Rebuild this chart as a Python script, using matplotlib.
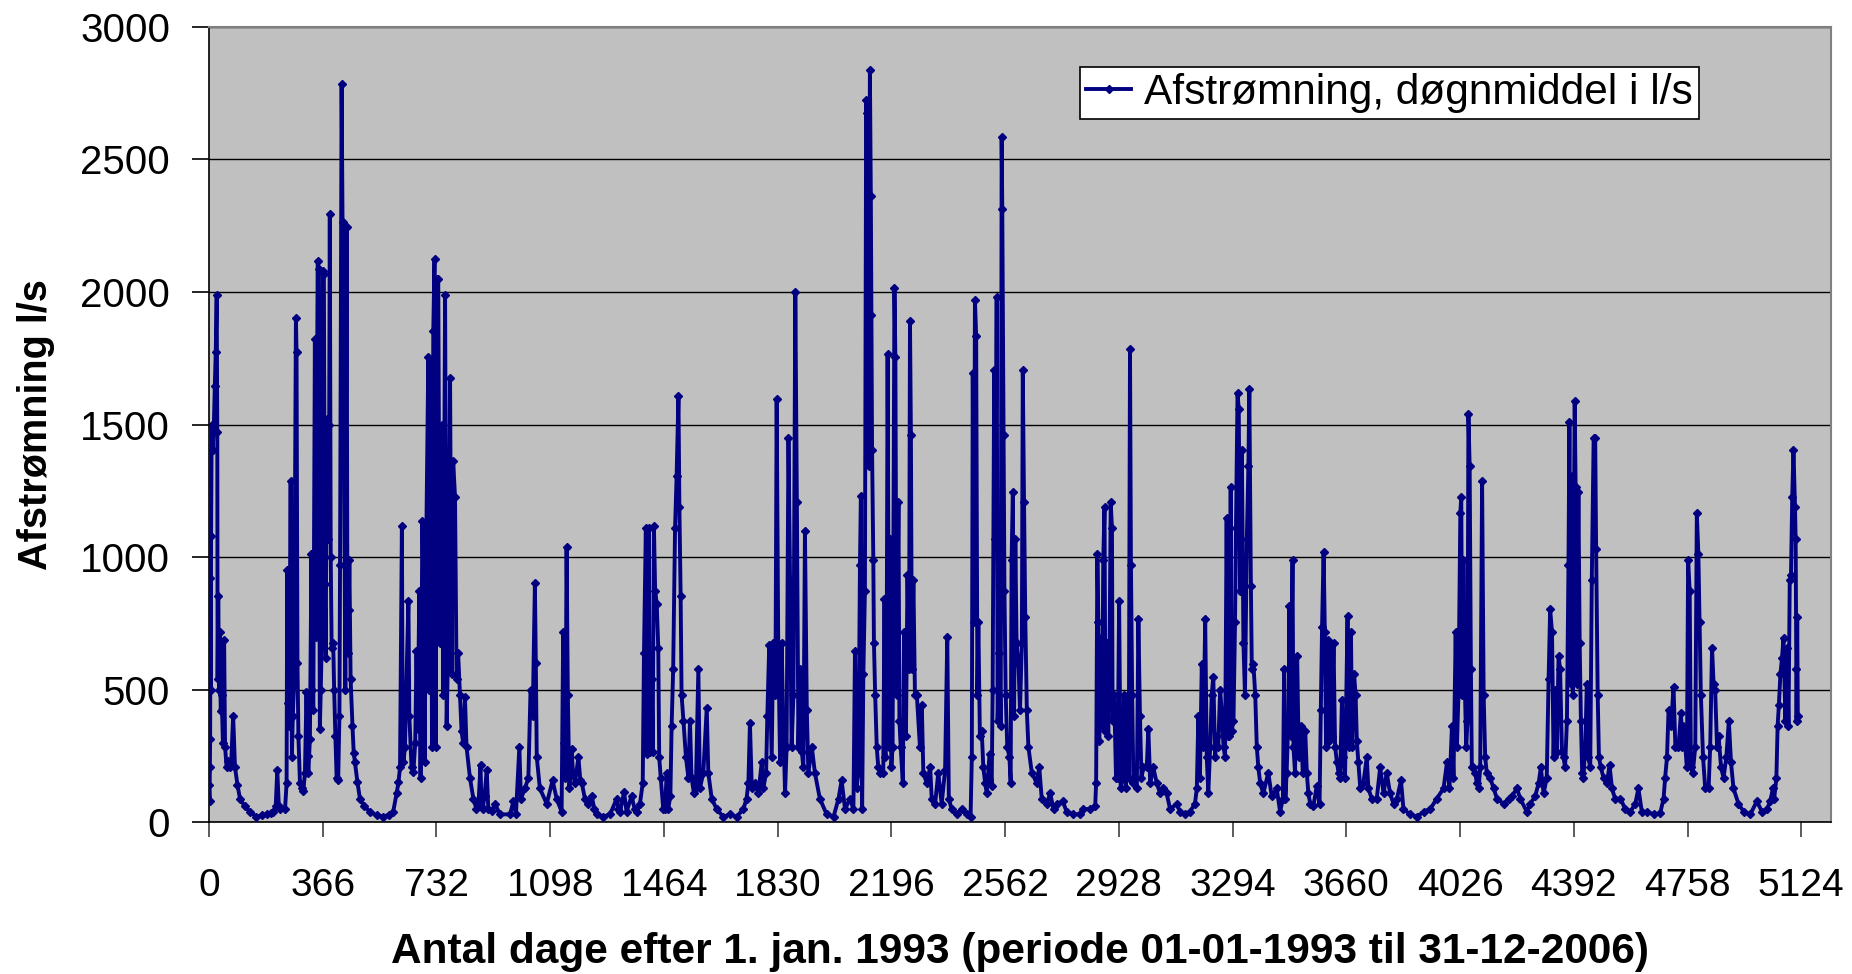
"""Afstrømning, døgnmiddel i l/s — daily discharge 1993-2006 (Excel-style line chart)."""
import matplotlib
matplotlib.use("Agg")
import matplotlib.pyplot as plt

plt.rcParams["font.family"] = ["Liberation Sans", "DejaVu Sans"]

# ── data (day after 1 Jan 1993, discharge l/s) ──
DAY = [
    0, 2, 3, 4, 5, 6, 7, 9, 12, 16, 19, 22, 25, 27, 28, 30, 33, 35, 38, 41,
    45, 49, 52, 57, 62, 67, 72, 78, 84, 92, 100, 115, 132, 153, 170, 186, 200, 207, 215, 220,
    225, 229, 245, 250, 252, 255, 258, 263, 267, 270, 274, 280, 282, 285, 288, 293, 300, 304, 309, 314,
    318, 320, 325, 330, 333, 336, 341, 344, 350, 353, 357, 360, 363, 366, 370, 373, 376, 379, 384, 387,
    389, 392, 395, 400, 403, 407, 411, 416, 420, 422, 427, 430, 432, 435, 439, 443, 446, 450, 452, 456,
    462, 466, 470, 478, 486, 500, 518, 540, 561, 580, 593, 604, 610, 615, 621, 623, 626, 631, 635, 642,
    645, 652, 658, 664, 668, 672, 677, 681, 687, 690, 694, 700, 706, 709, 713, 718, 722, 726, 730, 733,
    738, 743, 749, 754, 760, 765, 770, 776, 781, 786, 792, 797, 802, 808, 813, 818, 824, 829, 840, 851,
    861, 868, 874, 877, 881, 887, 894, 899, 910, 920, 937, 969, 980, 988, 999, 1004, 1017, 1028, 1035, 1042,
    1049, 1052, 1055, 1065, 1087, 1106, 1119, 1135, 1140, 1144, 1147, 1151, 1155, 1160, 1167, 1172, 1178, 1189, 1195, 1200,
    1210, 1220, 1232, 1240, 1248, 1269, 1291, 1312, 1318, 1323, 1336, 1344, 1360, 1370, 1377, 1387, 1396, 1400, 1406, 1411,
    1415, 1419, 1425, 1428, 1432, 1436, 1441, 1446, 1449, 1454, 1462, 1468, 1473, 1478, 1485, 1489, 1494, 1500, 1505, 1511,
    1514, 1518, 1521, 1527, 1535, 1543, 1548, 1553, 1561, 1567, 1575, 1580, 1591, 1602, 1607, 1618, 1634, 1655, 1677, 1698,
    1720, 1730, 1736, 1741, 1747, 1757, 1768, 1779, 1784, 1793, 1797, 1803, 1811, 1816, 1823, 1827, 1832, 1838, 1843, 1848,
    1854, 1859, 1865, 1870, 1875, 1881, 1887, 1892, 1897, 1902, 1908, 1913, 1918, 1924, 1929, 1940, 1950, 1966, 1988, 2010,
    2026, 2036, 2047, 2063, 2074, 2079, 2084, 2090, 2095, 2098, 2102, 2106, 2111, 2115, 2117, 2120, 2123, 2127, 2130, 2132,
    2134, 2138, 2140, 2144, 2149, 2154, 2160, 2170, 2174, 2177, 2181, 2184, 2189, 2192, 2196, 2200, 2206, 2209, 2213, 2219,
    2222, 2226, 2233, 2237, 2243, 2248, 2253, 2256, 2259, 2262, 2267, 2272, 2278, 2288, 2294, 2299, 2310, 2321, 2326, 2337,
    2347, 2358, 2369, 2376, 2381, 2390, 2406, 2422, 2439, 2451, 2455, 2458, 2462, 2465, 2469, 2473, 2476, 2481, 2487, 2492,
    2498, 2503, 2512, 2519, 2522, 2527, 2531, 2535, 2538, 2544, 2548, 2551, 2553, 2557, 2560, 2564, 2569, 2576, 2580, 2583,
    2587, 2591, 2595, 2599, 2605, 2610, 2616, 2619, 2623, 2627, 2632, 2637, 2648, 2664, 2672, 2680, 2696, 2707, 2718, 2730,
    2748, 2760, 2782, 2803, 2814, 2835, 2852, 2855, 2859, 2862, 2865, 2870, 2874, 2878, 2882, 2885, 2889, 2894, 2898, 2902,
    2906, 2908, 2913, 2919, 2924, 2929, 2934, 2941, 2945, 2951, 2956, 2960, 2964, 2967, 2971, 2975, 2986, 2991, 2996, 3001,
    3007, 3018, 3023, 3029, 3039, 3050, 3061, 3071, 3082, 3093, 3114, 3125, 3141, 3157, 3173, 3179, 3184, 3189, 3195, 3200,
    3206, 3211, 3216, 3222, 3227, 3232, 3238, 3243, 3248, 3254, 3259, 3265, 3270, 3275, 3279, 3284, 3288, 3291, 3297, 3302,
    3305, 3310, 3314, 3318, 3324, 3329, 3334, 3340, 3345, 3348, 3353, 3356, 3361, 3367, 3372, 3377, 3383, 3393, 3409, 3420,
    3436, 3447, 3456, 3460, 3464, 3468, 3474, 3477, 3481, 3487, 3490, 3495, 3502, 3507, 3514, 3520, 3528, 3533, 3538, 3544,
    3554, 3565, 3574, 3578, 3582, 3587, 3591, 3595, 3600, 3604, 3608, 3613, 3619, 3624, 3630, 3635, 3640, 3646, 3651, 3656,
    3664, 3668, 3675, 3679, 3685, 3690, 3694, 3699, 3705, 3715, 3726, 3731, 3742, 3758, 3769, 3780, 3790, 3801, 3812, 3823,
    3836, 3844, 3866, 3887, 3909, 3930, 3951, 3973, 3984, 3992, 4000, 4005, 4012, 4016, 4021, 4027, 4030, 4033, 4037, 4042,
    4046, 4050, 4053, 4057, 4061, 4064, 4069, 4075, 4080, 4086, 4091, 4097, 4102, 4107, 4112, 4123, 4134, 4145, 4166, 4182,
    4193, 4209, 4220, 4241, 4252, 4268, 4279, 4286, 4295, 4305, 4311, 4316, 4322, 4327, 4332, 4338, 4343, 4348, 4354, 4359,
    4364, 4370, 4375, 4378, 4382, 4386, 4389, 4395, 4398, 4402, 4407, 4411, 4415, 4419, 4423, 4429, 4434, 4439, 4445, 4450,
    4456, 4461, 4464, 4469, 4473, 4479, 4488, 4499, 4507, 4515, 4525, 4542, 4558, 4574, 4590, 4600, 4611, 4627, 4649, 4670,
    4681, 4686, 4692, 4697, 4705, 4713, 4719, 4729, 4737, 4741, 4745, 4751, 4756, 4760, 4765, 4769, 4775, 4783, 4788, 4793,
    4797, 4801, 4808, 4815, 4826, 4831, 4837, 4842, 4847, 4853, 4858, 4866, 4874, 4883, 4891, 4898, 4906, 4922, 4939, 4960,
    4981, 4998, 5014, 5024, 5033, 5037, 5044, 5048, 5052, 5057, 5062, 5067, 5073, 5078, 5083, 5087, 5091, 5095, 5099, 5104,
    5106, 5108, 5109, 5111, 5113,
]
FLOW = [
    140, 80, 206, 314, 922, 500, 1078, 1500, 1402, 1500, 1647, 1775, 1990, 1470, 539, 853, 500, 716, 420, 480,
    300, 686, 284, 206, 230, 206, 230, 402, 206, 140, 88, 60, 39, 20, 25, 29, 35, 39, 60, 196,
    60, 49, 49, 147, 951, 450, 363, 1285, 245, 400, 520, 1902, 1775, 600, 324, 147, 130, 118, 186, 490,
    250, 186, 314, 1010, 500, 422, 1824, 700, 2118, 2088, 353, 500, 676, 2079, 2069, 900, 618, 1520, 1069, 1500,
    2294, 1000, 657, 676, 500, 324, 167, 157, 400, 971, 2785, 2265, 1500, 1383, 500, 2245, 637, 800, 990, 539,
    363, 260, 225, 150, 88, 60, 39, 25, 20, 28, 39, 108, 150, 206, 1118, 500, 225, 284, 500, 833,
    400, 206, 190, 300, 647, 350, 873, 167, 1137, 873, 225, 1118, 1755, 500, 1735, 284, 1853, 2124, 284, 2049,
    2049, 676, 1500, 480, 1990, 363, 676, 1677, 559, 1363, 1226, 539, 637, 480, 343, 300, 471, 284, 167, 88,
    49, 80, 216, 60, 49, 100, 196, 49, 40, 69, 29, 29, 78, 29, 284, 88, 127, 167, 500, 400,
    902, 600, 245, 127, 69, 157, 88, 39, 716, 300, 167, 1039, 480, 127, 275, 180, 147, 245, 160, 147,
    88, 70, 98, 50, 29, 20, 29, 88, 50, 39, 112, 39, 98, 50, 39, 69, 147, 637, 1108, 255,
    1108, 265, 539, 265, 1118, 873, 824, 657, 245, 167, 49, 49, 186, 49, 100, 363, 578, 1108, 1304, 1608,
    1187, 853, 480, 382, 245, 167, 382, 167, 108, 127, 578, 127, 186, 431, 186, 88, 49, 20, 29, 20,
    49, 88, 147, 373, 127, 147, 108, 225, 127, 186, 402, 667, 245, 676, 480, 1598, 676, 225, 676, 382,
    108, 284, 1451, 912, 284, 480, 2000, 1206, 284, 578, 265, 206, 1098, 422, 186, 284, 186, 88, 29, 20,
    88, 157, 49, 88, 49, 647, 127, 186, 971, 1230, 49, 559, 873, 2726, 2677, 1363, 1343, 2838, 2363, 1912,
    1402, 990, 676, 480, 284, 206, 186, 186, 843, 245, 618, 1765, 284, 1069, 206, 284, 2014, 1755, 480, 1206,
    382, 284, 147, 716, 324, 932, 578, 1892, 1461, 578, 912, 480, 480, 284, 441, 186, 147, 206, 88, 69,
    186, 69, 196, 700, 88, 49, 29, 49, 29, 20, 245, 1696, 755, 1971, 1833, 480, 755, 324, 343, 206,
    147, 108, 255, 137, 500, 1706, 1069, 1981, 382, 637, 363, 2583, 2314, 1461, 873, 480, 284, 245, 147, 990,
    1245, 402, 1069, 676, 598, 422, 676, 1706, 1206, 775, 422, 284, 186, 147, 206, 88, 69, 108, 49, 69,
    78, 39, 29, 29, 49, 49, 59, 147, 1010, 755, 304, 696, 363, 990, 1187, 343, 676, 324, 618, 1206,
    1108, 382, 480, 167, 167, 833, 127, 167, 480, 127, 480, 167, 1785, 971, 480, 147, 127, 765, 402, 167,
    206, 206, 353, 147, 206, 147, 108, 127, 108, 49, 69, 39, 29, 39, 69, 127, 402, 167, 598, 284,
    765, 245, 108, 284, 480, 549, 245, 324, 284, 500, 422, 284, 245, 1147, 324, 324, 1265, 343, 382, 755,
    1108, 1618, 1559, 873, 1402, 676, 480, 1069, 1343, 1633, 892, 578, 598, 480, 284, 206, 147, 108, 186, 98,
    127, 39, 88, 578, 88, 186, 402, 814, 324, 990, 284, 186, 627, 245, 363, 186, 343, 186, 108, 69,
    59, 137, 69, 422, 735, 1020, 716, 284, 686, 304, 676, 324, 676, 284, 225, 186, 167, 461, 245, 167,
    778, 284, 716, 284, 559, 480, 304, 225, 127, 147, 245, 127, 88, 88, 206, 108, 186, 108, 69, 88,
    157, 49, 29, 20, 39, 49, 88, 127, 225, 127, 363, 167, 716, 284, 480, 1167, 1226, 480, 990, 480,
    284, 382, 1539, 1343, 578, 206, 206, 186, 147, 127, 206, 1285, 480, 245, 186, 167, 127, 88, 69, 88,
    98, 127, 88, 39, 69, 98, 147, 206, 108, 167, 539, 804, 716, 245, 500, 265, 627, 578, 265, 245,
    206, 382, 971, 1510, 520, 1304, 480, 1589, 1265, 520, 1245, 676, 382, 186, 167, 284, 520, 245, 206, 912,
    1451, 1451, 1030, 480, 245, 206, 167, 147, 216, 127, 88, 88, 49, 39, 69, 127, 39, 39, 29, 33,
    88, 167, 245, 422, 363, 510, 284, 284, 412, 284, 363, 284, 206, 990, 873, 206, 186, 284, 1167, 1010,
    755, 480, 245, 127, 127, 284, 657, 520, 500, 284, 324, 206, 167, 245, 382, 225, 127, 69, 39, 29,
    78, 39, 49, 78, 127, 88, 167, 363, 441, 559, 618, 696, 382, 657, 363, 912, 932, 1226, 1402, 1187,
    1069, 578, 382, 775, 400,
]

XTICKS = [0, 366, 732, 1098, 1464, 1830, 2196, 2562, 2928, 3294, 3660, 4026, 4392, 4758, 5124]
YTICKS = [0, 500, 1000, 1500, 2000, 2500, 3000]

LINE_COLOR = "#000080"

fig = plt.figure(figsize=(18.52, 9.74), dpi=100)
ax = fig.add_axes([0.1128, 0.156, 0.8759, 0.8163])
ax.set_facecolor("#C0C0C0")

ax.plot(DAY, FLOW, color=LINE_COLOR, lw=2.8, marker="D", ms=4.5,
        mec=LINE_COLOR, mfc=LINE_COLOR, label="Afstrømning, døgnmiddel i l/s", zorder=3)

ax.set_xlim(0, 5220)
ax.set_ylim(0, 3000)
ax.set_xticks(XTICKS)
ax.set_yticks(YTICKS)
ax.grid(axis="y", color="black", lw=1.0, zorder=1)
ax.set_axisbelow(True)

for side in ("top", "right"):
    ax.spines[side].set_color("#808080")
    ax.spines[side].set_linewidth(1.5)
for side in ("left", "bottom"):
    ax.spines[side].set_color("black")
    ax.spines[side].set_linewidth(1.2)

ax.tick_params(axis="y", direction="out", length=12, width=1.2, pad=16, labelsize=29)
ax.tick_params(axis="x", direction="out", length=11, width=1.2, pad=22, labelsize=28,
               color="#404040")

ax.set_ylabel("Afstrømning l/s", fontsize=28.5, fontweight="bold", labelpad=18)
ax.set_xlabel("Antal dage efter 1. jan. 1993 (periode 01-01-1993 til 31-12-2006)",
              fontsize=30.5, fontweight="bold", labelpad=20)

leg = ax.legend(loc="upper left", bbox_to_anchor=(0.537, 0.95), borderaxespad=0,
                fontsize=30.5, frameon=True, fancybox=False, handlelength=1.05,
                handletextpad=0.3, borderpad=0.15, markerscale=0.8)
leg.get_frame().set_edgecolor("black")
leg.get_frame().set_linewidth(1.2)
leg.get_frame().set_facecolor("white")
leg.get_frame().set_alpha(1.0)

fig.savefig("out.png", dpi=100, facecolor="white")
